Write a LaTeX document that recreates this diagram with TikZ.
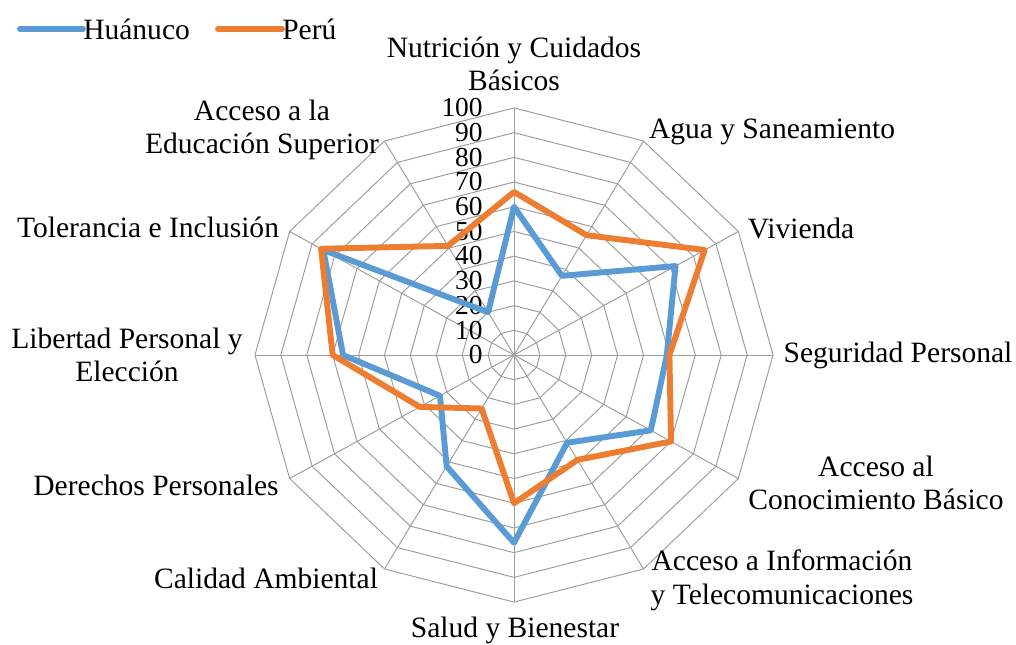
\documentclass[tikz,border=0pt]{standalone}
\usepackage{fontspec}
\setmainfont{Liberation Serif}
\newfontfamily\chartfont{Liberation Serif}
\definecolor{huablue}{HTML}{5B9BD5}
\definecolor{perorange}{HTML}{ED7D31}
\def\ring(#1){\draw[gridline] (90:#1) -- (60:#1) -- (30:#1) -- (0:#1) -- (-30:#1) -- (-60:#1) -- (-90:#1) -- (-120:#1) -- (-150:#1) -- (180:#1) -- (150:#1) -- (120:#1) -- cycle;}
\tikzset{
  gridline/.style={line width=0.7pt, color=black!38},
  hualine/.style={line width=4.2pt, color=huablue, line join=round, line cap=round},
  perline/.style={line width=4.2pt, color=perorange, line join=round, line cap=round},
  axislabel/.style={font=\chartfont\fontsize{21}{24}\selectfont, align=center, inner sep=0pt},
  ticklabel/.style={font=\chartfont\fontsize{19.5}{22}\selectfont, anchor=east, inner sep=0pt, text height=12.5pt, text depth=0pt}
}

\begin{document}
\begin{tikzpicture}[x=0.025cm, y=-0.025cm]
			%%%%% START %%%%%
			\useasboundingbox (0, 0) rectangle (1016, 644);
			
			\begin{scope}[shift={(514, 355)}, x=0.06475cm, y=0.06175cm]
			\ring(10)
			\ring(20)
			\ring(30)
			\ring(40)
			\ring(50)
			\ring(60)
			\ring(70)
			\ring(80)
			\ring(90)
			\ring(100)
			
			\draw[gridline] (90:100) -- (-90:100);
			\draw[gridline] (60:100) -- (-120:100);
			\draw[gridline] (30:100) -- (-150:100);
			\draw[gridline] (0:100) -- (180:100);
			\draw[gridline] (-30:100) -- (150:100);
			\draw[gridline] (-60:100) -- (120:100);
			
			\node[ticklabel] (t0) at (-12, 0) {0};
			\node[ticklabel] (t10) at (-12, 10) {10};
			\node[ticklabel] (t20) at (-12, 20) {20};
			\node[ticklabel] (t30) at (-12, 30) {30};
			\node[ticklabel] (t40) at (-12, 40) {40};
			\node[ticklabel] (t50) at (-12, 50) {50};
			\node[ticklabel] (t60) at (-12, 60) {60};
			\node[ticklabel] (t70) at (-12, 70) {70};
			\node[ticklabel] (t80) at (-12, 80) {80};
			\node[ticklabel] (t90) at (-12, 90) {90};
			\node[ticklabel] (t100) at (-12, 100) {100};
			
			% Huanuco
			\draw[hualine] (90:60) -- (60:37) -- (30:72) -- (0:59) -- (-30:61) -- (-60:41) -- (-90:76) -- (-120:52) -- (-150:33) -- (180:66) -- (150:85) -- (120:20) -- cycle;
			% Peru
			\draw[perline] (90:66) -- (60:56) -- (30:85) -- (0:60) -- (-30:70) -- (-60:49) -- (-90:60) -- (-120:25) -- (-150:42) -- (180:70) -- (150:86) -- (120:51) -- cycle;
			\end{scope}
			
			\node[axislabel] (nutricion) at (514, 64) {Nutrición y Cuidados\\Básicos};
			\node[axislabel] (agua) at (772, 132) {Agua y Saneamiento};
			\node[axislabel] (vivienda) at (801, 228) {Vivienda};
			\node[axislabel] (seguridad) at (898, 355) {Seguridad Personal};
			\node[axislabel] (conocimiento) at (876, 483) {Acceso al\\Conocimiento Básico};
			\node[axislabel] (informacion) at (782, 580) {Acceso a Información\\y Telecomunicaciones};
			\node[axislabel] (salud) at (515, 630) {Salud y Bienestar};
			\node[axislabel] (ambiental) at (266, 578) {Calidad Ambiental};
			\node[axislabel] (derechos) at (156, 485) {Derechos Personales};
			\node[axislabel] (libertad) at (127, 355) {Libertad Personal y\\Elección};
			\node[axislabel] (tolerancia) at (148, 227) {Tolerancia e Inclusión};
			\node[axislabel] (superior) at (262, 130) {Acceso a la\\Educación Superior};
			
			% legend
			\node[axislabel, anchor=west] (leghua) at (83, 29) {Huánuco};
			\draw[hualine] (20, 29) -- (leghua.west);
			\node[axislabel, anchor=west] (legper) at (282, 29) {Perú};
			\draw[perline] (218, 29) -- (legper.west);
			
			%%%%% END %%%%%
		\end{tikzpicture}
\end{document}
